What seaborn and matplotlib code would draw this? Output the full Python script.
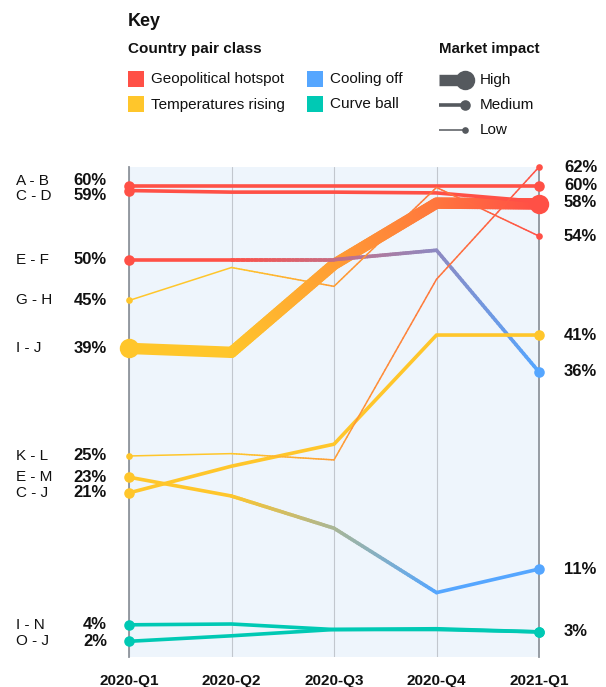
import numpy as np
import matplotlib
matplotlib.use('Agg')
import matplotlib.pyplot as plt
import matplotlib.transforms as mtransforms
from matplotlib.collections import LineCollection
from matplotlib.colors import to_rgb
from matplotlib.patches import Rectangle
import seaborn as sns

# Data
quarters = ['2020-Q1', '2020-Q2', '2020-Q3', '2020-Q4', '2021-Q1']
pairs = ['A - B', 'C - D', 'E - F', 'G - H', 'I - J',
         'K - L', 'E - M', 'C - J', 'I - N', 'O - J']

ab = [60.0, 60.0, 60.0, 60.0, 60.0]
cd = [59.4, 59.2, 59.2, 59.1, 58.0]
ef = [50.6, 50.6, 50.6, 51.8, 36.3]
gh = [45.4, 49.6, 47.2, 59.8, 53.6]
ij = [39.3, 38.8, 50.0, 57.8, 57.7]
kl = [25.6, 25.9, 25.1, 48.1, 62.4]
em = [22.9, 20.5, 16.4, 8.2, 11.2]
cj = [20.9, 24.3, 27.1, 41.0, 41.0]
i_n = [4.1, 4.2, 3.5, 3.6, 3.2]
oj = [2.0, 2.7, 3.5, 3.5, 3.2]
values = [ab, cd, ef, gh, ij, kl, em, cj, i_n, oj]

start_class = ['Geopolitical hotspot', 'Geopolitical hotspot', 'Geopolitical hotspot',
               'Temperatures rising', 'Temperatures rising', 'Temperatures rising',
               'Temperatures rising', 'Temperatures rising', 'Curve ball', 'Curve ball']
end_class = ['Geopolitical hotspot', 'Geopolitical hotspot', 'Cooling off',
             'Geopolitical hotspot', 'Geopolitical hotspot', 'Geopolitical hotspot',
             'Cooling off', 'Temperatures rising', 'Curve ball', 'Curve ball']
# quarter index where the class shift starts / is complete
shift_start = [None, None, 1, 1, 1, 1, 1, None, None, None]
shift_end = [None, None, 4, 4, 4, 4, 3, None, None, None]
impact = ['Medium', 'Medium', 'Medium', 'Low', 'High',
          'Low', 'Medium', 'Medium', 'Medium', 'Medium']

start_pct = ['60%', '59%', '50%', '45%', '39%', '25%', '23%', '21%', '4%', '2%']
end_pct = ['60%', '58%', '36%', '54%', '58%', '62%', '11%', '41%', '3%', '3%']

class_names = ['Geopolitical hotspot', 'Temperatures rising', 'Cooling off', 'Curve ball']
class_colors = {'Geopolitical hotspot': '#ff5046', 'Temperatures rising': '#ffc62b',
                'Cooling off': '#55a6ff', 'Curve ball': '#00c9b4'}
impact_width = {'High': 8.2, 'Medium': 2.6, 'Low': 1.1}
impact_marker = {'High': 14, 'Medium': 7.6, 'Low': 4.8}
impact_z = {'High': 3, 'Medium': 4, 'Low': 5}

sns.set_theme(style='white')
plt.rcParams['font.family'] = ['Liberation Sans', 'DejaVu Sans']

W, H = 606, 687
fig = plt.figure(figsize=(W / 100, H / 100), dpi=100)
ax = fig.add_axes([129 / W, 1 - 657 / H, (539 - 129) / W, (657 - 167) / H])
ax.set_facecolor('#eef5fc')
x = np.arange(len(quarters))


def mix(c0, c1, t):
    return tuple((1 - t) * c0 + t * c1)


for i, pair in enumerate(pairs):
    y = np.array(values[i])
    c0 = np.array(to_rgb(class_colors[start_class[i]]))
    c1 = np.array(to_rgb(class_colors[end_class[i]]))
    lw = impact_width[impact[i]]
    z = impact_z[impact[i]]
    last = len(x) - 1
    s0 = shift_start[i] if shift_start[i] is not None else last
    s1 = shift_end[i] if shift_end[i] is not None else last

    # solid part before the class shift
    sns.lineplot(x=x[:s0 + 1], y=y[:s0 + 1], color=tuple(c0), linewidth=lw, ax=ax,
                 zorder=z, solid_capstyle='round', solid_joinstyle='round')
    # colour shift part
    if shift_start[i] is not None:
        segs, cols = [], []
        for k in range(s0, s1):
            n = 40
            xs = np.linspace(x[k], x[k + 1], n + 1)
            ys = np.linspace(y[k], y[k + 1], n + 1)
            for j in range(n):
                segs.append([(xs[j], ys[j]), (xs[j + 1], ys[j + 1])])
                xm = (xs[j] + xs[j + 1]) / 2
                cols.append(mix(c0, c1, (xm - x[s0]) / (x[s1] - x[s0])))
        lc = LineCollection(segs, colors=cols, linewidths=lw, capstyle='round',
                            joinstyle='round', zorder=z)
        ax.add_collection(lc)
        if s1 < last:
            sns.lineplot(x=x[s1:], y=y[s1:], color=tuple(c1), linewidth=lw, ax=ax,
                         zorder=z, solid_capstyle='round', solid_joinstyle='round')

    ms = impact_marker[impact[i]]
    ax.plot([x[0]], [y[0]], 'o', ms=ms, color=tuple(c0), mec='none',
            zorder=z + 10, clip_on=False)
    ax.plot([x[-1]], [y[-1]], 'o', ms=ms, color=tuple(c1), mec='none',
            zorder=z + 10, clip_on=False)

ax.set_xlim(0, 4)
ax.set_ylim(0, 62.4)
ax.set_xticks(x)
ax.set_xticklabels(quarters, fontsize=11, fontweight='bold', color='#111111')
ax.set_yticks([])
ax.tick_params(axis='x', length=0, pad=12)
ax.set_xlabel('')
ax.set_ylabel('')
ax.grid(axis='x', color='#c2c7ce', linewidth=0.8)
ax.set_axisbelow(True)
for side in ['top', 'bottom']:
    ax.spines[side].set_visible(False)
for side in ['left', 'right']:
    ax.spines[side].set_color('#8e949c')
    ax.spines[side].set_linewidth(1.3)


def spread(vals, gap):
    pos = np.array(vals, dtype=float)
    order = np.argsort(-pos)
    for _ in range(200):
        for a, b in zip(order[:-1], order[1:]):
            d = pos[a] - pos[b]
            if d < gap:
                pos[a] += (gap - d) / 2
                pos[b] -= (gap - d) / 2
    return pos


trans = mtransforms.blended_transform_factory(fig.transFigure, ax.transData)

# left labels
left_y = spread([v[0] for v in values], 1.9)
for i, pair in enumerate(pairs):
    ax.text(16 / W, left_y[i], pair, transform=trans, ha='left', va='center',
            fontsize=11, color='#111111', clip_on=False)
    ax.text(107 / W, left_y[i], start_pct[i], transform=trans, ha='right', va='center',
            fontsize=12, fontweight='bold', color='#111111', clip_on=False)

# right labels, one per distinct end value
end_labels = list(dict.fromkeys(end_pct))
end_pos = [np.mean([values[i][-1] for i in range(len(pairs)) if end_pct[i] == lab])
           for lab in end_labels]
right_y = spread(end_pos, 1.9)
for lab, yy in zip(end_labels, right_y):
    ax.text(564 / W, yy, lab, transform=trans, ha='left', va='center',
            fontsize=12, fontweight='bold', color='#111111', clip_on=False)

# key
lax = fig.add_axes([0, 0, 1, 1], facecolor='none')
lax.set_xlim(0, W)
lax.set_ylim(H, 0)
lax.axis('off')
txt = '#111111'
lax.text(128, 21, 'Key', fontsize=13, fontweight='bold', va='center', color=txt)
lax.text(128, 49, 'Country pair class', fontsize=11, fontweight='bold', va='center', color=txt)
lax.text(439, 49, 'Market impact', fontsize=10.8, fontweight='bold', va='center', color=txt)
swatch_pos = [(128, 71), (128, 96), (307, 71), (307, 96)]
for name, (sx, sy) in zip(class_names, swatch_pos):
    lax.add_patch(Rectangle((sx, sy), 16, 16, color=class_colors[name], lw=0))
    lax.text(sx + 23, sy + 8.5, name, fontsize=11, va='center', color=txt)

icon = '#55595e'
for lev, yy in zip(['High', 'Medium', 'Low'], [80, 105, 130]):
    lax.plot([439, 465], [yy, yy], color=icon, lw=impact_width[lev], solid_capstyle='butt')
    lax.plot([465], [yy], 'o', ms=impact_marker[lev], color=icon, mec='none')
    lax.text(480, yy, lev, fontsize=11, va='center', color=txt)

fig.savefig('out.png', dpi=100)
